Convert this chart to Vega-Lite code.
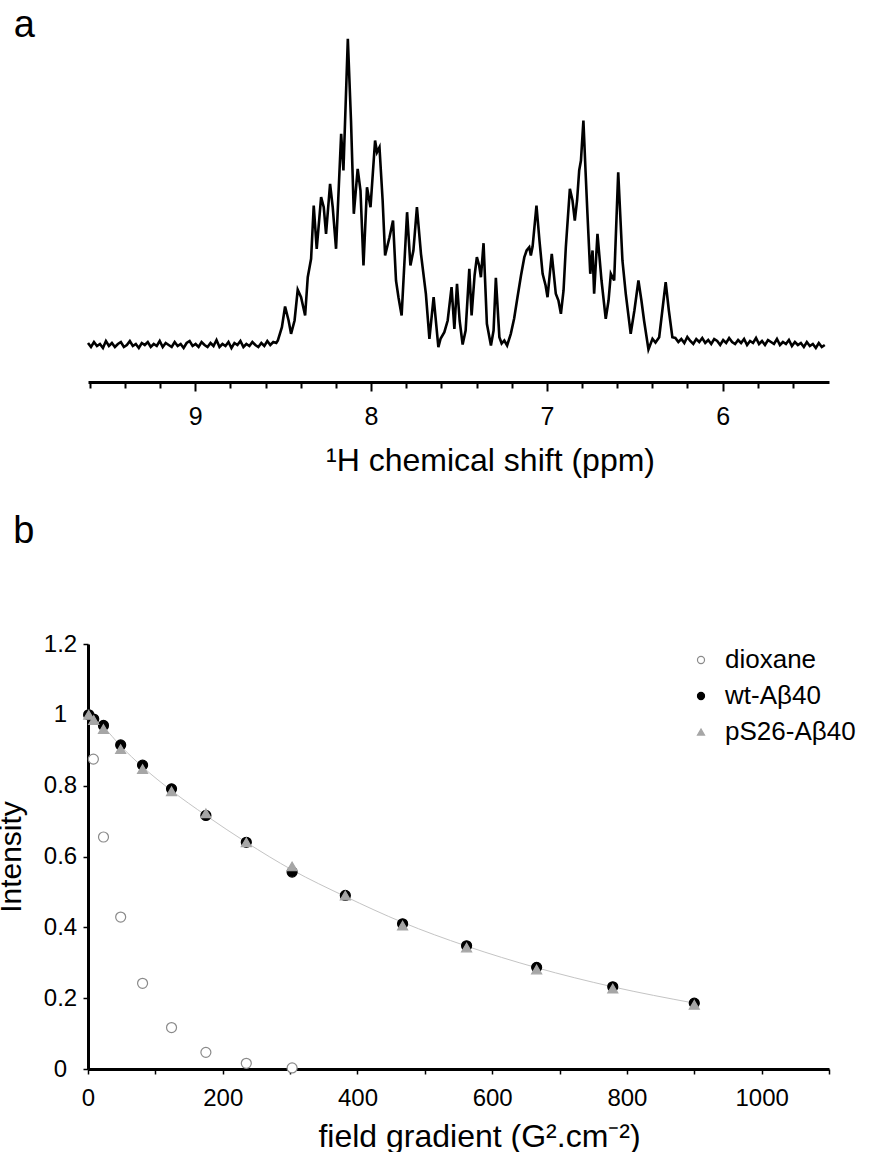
{
  "$schema": "https://vega.github.io/schema/vega-lite/v6.json",
  "background": "white",
  "padding": {"left": -4, "top": 7, "right": 0, "bottom": 0},
  "bounds": "flush",
  "spacing": 262,
  "config": {
    "font": "Liberation Sans",
    "view": {"stroke": null},
    "axis": {"labelColor": "black", "titleColor": "black", "domainColor": "black", "tickColor": "black", "grid": false, "titleFontWeight": "normal", "labelFont": "Liberation Sans", "titleFont": "Liberation Sans"},
    "title": {"fontWeight": "normal", "color": "black", "font": "Liberation Sans"},
    "legend": {"labelFont": "Liberation Sans", "labelColor": "black"}
  },
  "vconcat": [
    {
      "width": 741,
      "height": 351,
      "title": {"text": "a", "anchor": "start", "fontSize": 38, "offset": 0, "dy": 44, "dx": -69, "baseline": "alphabetic"},
      "data": {"values": [
        {"p":9.610,"v":39},{"p":9.593,"v":35},{"p":9.576,"v":40},{"p":9.559,"v":36},{"p":9.542,"v":38},{"p":9.525,"v":34},{"p":9.508,"v":41},{"p":9.491,"v":36},{"p":9.474,"v":39},{"p":9.457,"v":35},{"p":9.440,"v":38},{"p":9.423,"v":40},{"p":9.406,"v":35},{"p":9.389,"v":37},{"p":9.372,"v":41},{"p":9.355,"v":36},{"p":9.338,"v":38},{"p":9.321,"v":34},{"p":9.304,"v":39},{"p":9.287,"v":37},{"p":9.270,"v":40},{"p":9.253,"v":35},{"p":9.236,"v":38},{"p":9.219,"v":36},{"p":9.202,"v":41},{"p":9.185,"v":35},{"p":9.168,"v":39},{"p":9.151,"v":37},{"p":9.134,"v":35},{"p":9.117,"v":40},{"p":9.100,"v":36},{"p":9.083,"v":38},{"p":9.066,"v":34},{"p":9.049,"v":39},{"p":9.032,"v":41},{"p":9.015,"v":36},{"p":8.998,"v":38},{"p":8.981,"v":35},{"p":8.964,"v":40},{"p":8.947,"v":37},{"p":8.930,"v":35},{"p":8.913,"v":39},{"p":8.896,"v":36},{"p":8.879,"v":42},{"p":8.862,"v":35},{"p":8.845,"v":38},{"p":8.828,"v":36},{"p":8.811,"v":40},{"p":8.794,"v":34},{"p":8.777,"v":39},{"p":8.760,"v":37},{"p":8.743,"v":41},{"p":8.726,"v":35},{"p":8.709,"v":38},{"p":8.692,"v":36},{"p":8.675,"v":40},{"p":8.658,"v":37},{"p":8.641,"v":35},{"p":8.624,"v":39},{"p":8.607,"v":36},{"p":8.590,"v":41},{"p":8.573,"v":37},{"p":8.556,"v":40},{"p":8.539,"v":39},
        {"p":8.530,"v":41.5},{"p":8.507,"v":54.8},{"p":8.489,"v":75.5},{"p":8.469,"v":61.5},{"p":8.455,"v":48.2},{"p":8.435,"v":61.5},{"p":8.417,"v":92.2},{"p":8.398,"v":84.8},{"p":8.375,"v":66.5},{"p":8.360,"v":104.8},{"p":8.341,"v":123.2},{"p":8.326,"v":176.5},{"p":8.309,"v":133.2},{"p":8.284,"v":184.8},{"p":8.269,"v":174.8},{"p":8.256,"v":148.2},{"p":8.233,"v":198.2},{"p":8.218,"v":174.8},{"p":8.199,"v":133.2},{"p":8.170,"v":248.2},{"p":8.157,"v":211.5},{"p":8.132,"v":343.2},{"p":8.114,"v":261.5},{"p":8.098,"v":168.2},{"p":8.076,"v":213.2},{"p":8.060,"v":191.5},{"p":8.043,"v":116.5},{"p":8.023,"v":194.8},{"p":8.003,"v":174.8},{"p":7.977,"v":241.5},{"p":7.966,"v":229.8},{"p":7.952,"v":234.8},{"p":7.934,"v":181.5},{"p":7.920,"v":126.5},{"p":7.895,"v":144.8},{"p":7.875,"v":161.5},{"p":7.858,"v":101.5},{"p":7.844,"v":84.8},{"p":7.826,"v":66.5},{"p":7.795,"v":169.8},{"p":7.776,"v":116.5},{"p":7.759,"v":131.5},{"p":7.739,"v":174.8},{"p":7.716,"v":128.2},{"p":7.688,"v":88.2},{"p":7.668,"v":43.2},{"p":7.644,"v":84.8},{"p":7.617,"v":34.8},{"p":7.604,"v":43.5},{"p":7.583,"v":49.8},{"p":7.564,"v":61.5},{"p":7.542,"v":94.8},{"p":7.526,"v":53.2},{"p":7.511,"v":98.2},{"p":7.496,"v":61.5},{"p":7.479,"v":37.5},{"p":7.462,"v":51.5},{"p":7.441,"v":113.2},{"p":7.428,"v":66.5},{"p":7.411,"v":106.5},{"p":7.398,"v":124.8},{"p":7.385,"v":116.5},{"p":7.375,"v":104.8},{"p":7.360,"v":138.8},{"p":7.341,"v":58.2},{"p":7.318,"v":36.5},{"p":7.303,"v":51.5},{"p":7.290,"v":104.2},{"p":7.270,"v":44.8},{"p":7.257,"v":38.5},{"p":7.242,"v":41.5},{"p":7.226,"v":36.5},{"p":7.205,"v":48.2},{"p":7.186,"v":63.5},{"p":7.167,"v":84.8},{"p":7.147,"v":106.5},{"p":7.128,"v":124.8},{"p":7.115,"v":131.5},{"p":7.100,"v":134.8},{"p":7.091,"v":126.5},{"p":7.081,"v":135.5},{"p":7.059,"v":176.5},{"p":7.042,"v":141.5},{"p":7.024,"v":108.2},{"p":7.007,"v":96.5},{"p":6.996,"v":84.8},{"p":6.972,"v":128.2},{"p":6.949,"v":88.2},{"p":6.934,"v":81.5},{"p":6.920,"v":68.2},{"p":6.905,"v":91.5},{"p":6.892,"v":134.8},{"p":6.869,"v":193.2},{"p":6.854,"v":181.5},{"p":6.841,"v":161.5},{"p":6.828,"v":181.5},{"p":6.816,"v":211.5},{"p":6.806,"v":221.5},{"p":6.792,"v":261.5},{"p":6.780,"v":211.5},{"p":6.769,"v":168.2},{"p":6.753,"v":108.2},{"p":6.740,"v":131.5},{"p":6.731,"v":88.2},{"p":6.712,"v":148.2},{"p":6.689,"v":101.5},{"p":6.665,"v":63.2},{"p":6.649,"v":81.5},{"p":6.636,"v":108.2},{"p":6.617,"v":101.5},{"p":6.594,"v":209.8},{"p":6.570,"v":121.5},{"p":6.551,"v":88.2},{"p":6.523,"v":48.2},{"p":6.502,"v":71.5},{"p":6.479,"v":101.5},{"p":6.462,"v":81.5},{"p":6.447,"v":61.5},{"p":6.422,"v":32.5},{"p":6.399,"v":43.2},{"p":6.382,"v":39.5},{"p":6.361,"v":44.8},{"p":6.343,"v":71.5},{"p":6.324,"v":99.8},{"p":6.306,"v":71.5},{"p":6.286,"v":44.8},
        {"p":6.269,"v":44},{"p":6.252,"v":40},{"p":6.235,"v":43},{"p":6.218,"v":39},{"p":6.201,"v":45},{"p":6.184,"v":41},{"p":6.167,"v":38},{"p":6.150,"v":43},{"p":6.133,"v":40},{"p":6.116,"v":44},{"p":6.099,"v":39},{"p":6.082,"v":42},{"p":6.065,"v":38},{"p":6.048,"v":43},{"p":6.031,"v":41},{"p":6.014,"v":37},{"p":5.997,"v":42},{"p":5.980,"v":39},{"p":5.963,"v":44},{"p":5.946,"v":40},{"p":5.929,"v":38},{"p":5.912,"v":42},{"p":5.895,"v":39},{"p":5.878,"v":43},{"p":5.861,"v":37},{"p":5.844,"v":41},{"p":5.827,"v":39},{"p":5.810,"v":44},{"p":5.793,"v":38},{"p":5.776,"v":41},{"p":5.759,"v":37},{"p":5.742,"v":42},{"p":5.725,"v":40},{"p":5.708,"v":38},{"p":5.691,"v":43},{"p":5.674,"v":37},{"p":5.657,"v":40},{"p":5.640,"v":38},{"p":5.623,"v":42},{"p":5.606,"v":36},{"p":5.589,"v":40},{"p":5.572,"v":37},{"p":5.555,"v":39},{"p":5.538,"v":35},{"p":5.521,"v":40},{"p":5.504,"v":36},{"p":5.487,"v":38},{"p":5.470,"v":34},{"p":5.453,"v":39},{"p":5.436,"v":35},{"p":5.419,"v":37}
      ]},
      "mark": {"type": "line", "color": "black", "strokeWidth": 2.6},
      "encoding": {
        "x": {"field": "p", "type": "quantitative",
          "scale": {"domain": [5.395, 9.61], "reverse": true, "nice": false, "zero": false},
          "axis": {"title": "¹H chemical shift (ppm)", "titleFontSize": 32, "titlePadding": 16, "titleX": 402, "titleAlign": "center",
            "values": [9.6,9.4,9.2,9.0,8.8,8.6,8.4,8.2,8.0,7.8,7.6,7.4,7.2,7.0,6.8,6.6,6.4,6.2,6.0,5.8,5.6],
            "labelExpr": "abs(datum.value - round(datum.value)) < 0.01 ? format(datum.value, '.0f') : ''",
            "labelFontSize": 25, "labelPadding": 13, "labelFlush": false,
            "domainWidth": 3, "tickWidth": 2,
            "tickSize": {"condition": {"test": "abs(datum.value - round(datum.value)) < 0.01", "value": 9}, "value": 6}}},
        "y": {"field": "v", "type": "quantitative", "scale": {"domain": [0, 351], "nice": false, "zero": false}, "axis": null}
      }
    },
    {
      "width": 741,
      "height": 425,
      "title": {"text": "b", "anchor": "start", "fontSize": 38, "offset": 51, "dx": 17, "baseline": "alphabetic"},
      "layer": [
        {
          "data": {"values": [
            {"g":0,"I":1.0},{"g":10,"I":0.985},{"g":23,"I":0.965},{"g":48.5,"I":0.912},{"g":81,"I":0.853},{"g":124,"I":0.786},{"g":175,"I":0.716},{"g":235,"I":0.640},{"g":303,"I":0.562},{"g":382,"I":0.487},{"g":467,"I":0.414},{"g":562,"I":0.347},{"g":666,"I":0.286},{"g":779,"I":0.232},{"g":900,"I":0.186}
          ]},
          "mark": {"type": "line", "color": "#c4c4c4", "strokeWidth": 1, "interpolate": "monotone"},
          "encoding": {
            "x": {"field": "g", "type": "quantitative"},
            "y": {"field": "I", "type": "quantitative"}
          }
        },
        {
          "data": {"values": [
            {"g":1.5,"I":1.0,"s":"dioxane"},{"g":8,"I":0.875,"s":"dioxane"},{"g":23,"I":0.655,"s":"dioxane"},{"g":48.5,"I":0.429,"s":"dioxane"},{"g":81,"I":0.242,"s":"dioxane"},{"g":124,"I":0.117,"s":"dioxane"},{"g":175,"I":0.047,"s":"dioxane"},{"g":235,"I":0.016,"s":"dioxane"},{"g":303,"I":0.003,"s":"dioxane"},
            {"g":1,"I":1.0,"s":"wt-Aβ40"},{"g":8.5,"I":0.988,"s":"wt-Aβ40"},{"g":23,"I":0.970,"s":"wt-Aβ40"},{"g":48.5,"I":0.915,"s":"wt-Aβ40"},{"g":81,"I":0.858,"s":"wt-Aβ40"},{"g":124,"I":0.791,"s":"wt-Aβ40"},{"g":175,"I":0.716,"s":"wt-Aβ40"},{"g":235,"I":0.640,"s":"wt-Aβ40"},{"g":303,"I":0.556,"s":"wt-Aβ40"},{"g":382,"I":0.490,"s":"wt-Aβ40"},{"g":467,"I":0.410,"s":"wt-Aβ40"},{"g":562,"I":0.348,"s":"wt-Aβ40"},{"g":666,"I":0.287,"s":"wt-Aβ40"},{"g":779,"I":0.232,"s":"wt-Aβ40"},{"g":900,"I":0.186,"s":"wt-Aβ40"},
            {"g":1,"I":1.0,"s":"pS26-Aβ40"},{"g":8.5,"I":0.985,"s":"pS26-Aβ40"},{"g":23,"I":0.960,"s":"pS26-Aβ40"},{"g":48.5,"I":0.903,"s":"pS26-Aβ40"},{"g":81,"I":0.847,"s":"pS26-Aβ40"},{"g":124,"I":0.784,"s":"pS26-Aβ40"},{"g":175,"I":0.722,"s":"pS26-Aβ40"},{"g":235,"I":0.640,"s":"pS26-Aβ40"},{"g":303,"I":0.572,"s":"pS26-Aβ40"},{"g":382,"I":0.490,"s":"pS26-Aβ40"},{"g":467,"I":0.405,"s":"pS26-Aβ40"},{"g":562,"I":0.343,"s":"pS26-Aβ40"},{"g":666,"I":0.281,"s":"pS26-Aβ40"},{"g":779,"I":0.227,"s":"pS26-Aβ40"},{"g":900,"I":0.181,"s":"pS26-Aβ40"}
          ]},
          "mark": {"type": "point", "opacity": 1, "strokeWidth": 1.2, "size": 100},
          "encoding": {
            "x": {"field": "g", "type": "quantitative",
              "scale": {"domain": [0, 1100], "nice": false, "zero": false},
              "axis": {"title": "field gradient (G².cm⁻²)", "titleFontSize": 32, "titlePadding": 11, "titleX": 391, "titleAlign": "center",
                "values": [0,100,200,300,400,500,600,700,800,900,1000,1100], "format": "d",
                "labelExpr": "datum.value % 200 === 0 ? datum.label : ''",
                "labelFontSize": 24, "labelPadding": 12, "labelFlush": false,
                "domainWidth": 3, "tickWidth": 1.5, "tickSize": 5}},
            "y": {"field": "I", "type": "quantitative",
              "scale": {"domain": [0, 1.2], "nice": false, "zero": false},
              "axis": {"title": "Intensity", "titleFontSize": 30, "titlePadding": 17,
                "values": [0, 0.2, 0.4, 0.6, 0.8, 1, 1.2], "format": "~g",
                "labelFontSize": 24, "labelAlign": "center", "labelPadding": 23, "labelFlush": false,
                "domainWidth": 3, "tickWidth": 1.5, "tickSize": 5}},
            "shape": {"field": "s", "type": "nominal",
              "scale": {"domain": ["dioxane", "wt-Aβ40", "pS26-Aβ40"], "range": ["circle", "circle", "triangle-up"]},
              "legend": {"orient": "none", "legendX": 600, "legendY": 616, "title": null, "labelFontSize": 26, "symbolSize": 50, "rowPadding": 10, "labelOffset": 11, "padding": 0, "symbolStrokeWidth": 1.2}},
            "fill": {"field": "s", "type": "nominal",
              "scale": {"domain": ["dioxane", "wt-Aβ40", "pS26-Aβ40"], "range": ["white", "black", "#a6a6a6"]},
              "legend": {"orient": "none", "legendX": 600, "legendY": 616, "title": null, "labelFontSize": 26, "symbolSize": 50, "rowPadding": 10, "labelOffset": 11, "padding": 0, "symbolStrokeWidth": 1.2}},
            "stroke": {"field": "s", "type": "nominal",
              "scale": {"domain": ["dioxane", "wt-Aβ40", "pS26-Aβ40"], "range": ["#8a8a8a", "black", "#a6a6a6"]},
              "legend": {"orient": "none", "legendX": 600, "legendY": 616, "title": null, "labelFontSize": 26, "symbolSize": 50, "rowPadding": 10, "labelOffset": 11, "padding": 0, "symbolStrokeWidth": 1.2}}
          }
        }
      ]
    }
  ]
}
